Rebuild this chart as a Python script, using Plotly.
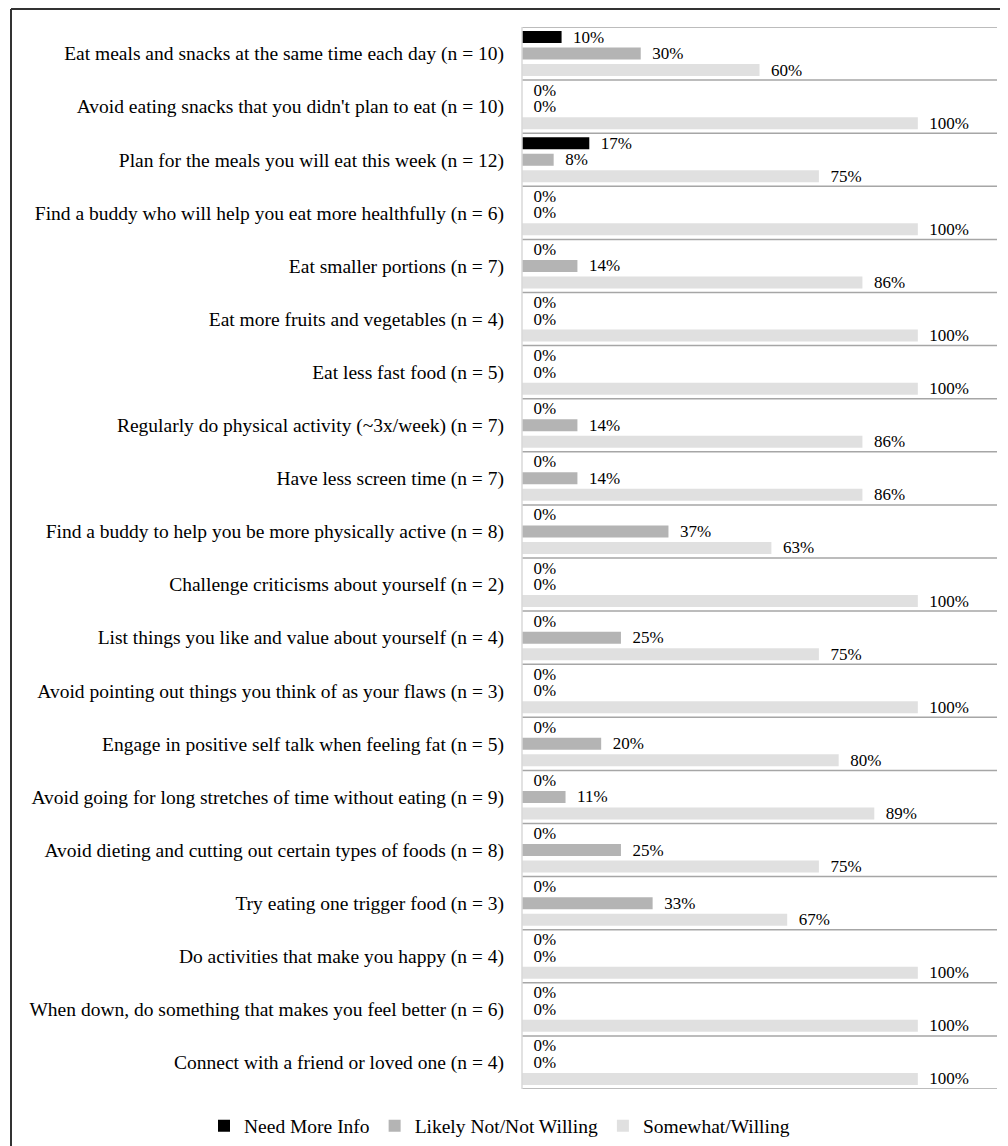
import plotly.graph_objects as go

categories = [
    "Eat meals and snacks at the same time each day (n = 10)",
    "Avoid eating snacks that you didn't plan to eat (n = 10)",
    "Plan for the meals you will eat this week (n = 12)",
    "Find a buddy who will help you eat more healthfully (n = 6)",
    "Eat smaller portions (n = 7)",
    "Eat more fruits and vegetables (n = 4)",
    "Eat less fast food (n = 5)",
    "Regularly do physical activity (~3x/week) (n = 7)",
    "Have less screen time (n = 7)",
    "Find a buddy to help you be more physically active (n = 8)",
    "Challenge criticisms about yourself (n = 2)",
    "List things you like and value about yourself (n = 4)",
    "Avoid pointing out things you think of as your flaws (n = 3)",
    "Engage in positive self talk when feeling fat (n = 5)",
    "Avoid going for long stretches of time without eating (n = 9)",
    "Avoid dieting and cutting out certain types of foods (n = 8)",
    "Try eating one trigger food (n = 3)",
    "Do activities that make you happy (n = 4)",
    "When down, do something that makes you feel better (n = 6)",
    "Connect with a friend or loved one (n = 4)",
]

need_more_info = [10, 0, 17, 0, 0, 0, 0, 0, 0, 0, 0, 0, 0, 0, 0, 0, 0, 0, 0, 0]
likely_not = [30, 0, 8, 0, 14, 0, 0, 14, 14, 37, 0, 25, 0, 20, 11, 25, 33, 0, 0, 0]
somewhat = [60, 100, 75, 100, 86, 100, 100, 86, 86, 63, 100, 75, 100, 80, 89, 75, 67, 100, 100, 100]

series = [
    ("Need More Info", need_more_info, "#000000"),
    ("Likely Not/Not Willing", likely_not, "#b4b4b4"),
    ("Somewhat/Willing", somewhat, "#e0e0e0"),
]

FONT = "Liberation Serif, Times New Roman, serif"
# page body has an 8px margin, so the figure is sized to fill the rest of the window
W, H = 1000, 1138
ML, MR, MT, MB = 514, 11, 19, 57
pw = W - ML - MR
ph = H - MT - MB

fig = go.Figure()
for name, vals, color in series:
    fig.add_trace(go.Bar(
        y=categories, x=vals, name=name, orientation="h",
        marker=dict(color=color, line=dict(width=0)),
        text=[f"\u00a0\u00a0{v}%" for v in vals],
        textposition="outside", cliponaxis=False, constraintext="none",
        textfont=dict(family=FONT, size=17, color="#000000"),
    ))

n = len(categories)
shapes = []
for i in range(n + 1):
    shapes.append(dict(type="line", xref="paper", yref="y", x0=0, x1=1,
                       y0=i - 0.5, y1=i - 0.5,
                       line=dict(color="#a6a6a6", width=1.5)))

# outer frame (top and left edges)
shapes.append(dict(type="line", xref="paper", yref="paper",
                   x0=(3 - ML) / pw, x1=(W - ML) / pw,
                   y0=1 + (MT - 1) / ph, y1=1 + (MT - 1) / ph,
                   line=dict(color="#333333", width=2)))
shapes.append(dict(type="line", xref="paper", yref="paper",
                   x0=(3 - ML) / pw, x1=(3 - ML) / pw,
                   y0=1 + (MT - 1) / ph, y1=-MB / ph - 0.01,
                   line=dict(color="#333333", width=2)))
# faint left axis line of plot area
shapes.append(dict(type="line", xref="paper", yref="paper", x0=0, x1=0, y0=0, y1=1,
                   line=dict(color="#d9d9d9", width=1.5)))

fig.update_layout(
    width=W, height=H,
    margin=dict(l=ML, r=MR, t=MT, b=MB, autoexpand=False),
    plot_bgcolor="white", paper_bgcolor="white",
    barmode="group", bargap=0.068, bargroupgap=0.27,
    font=dict(family=FONT, size=19, color="#000000"),
    xaxis=dict(range=[0, 120], visible=False, fixedrange=True),
    yaxis=dict(range=[n - 0.5, -0.5], showgrid=False, zeroline=False,
               showline=False, ticks="", ticklabelstandoff=17,
               tickfont=dict(family=FONT, size=19.5, color="#000000")),
    showlegend=True,
    legend=dict(orientation="h", xref="paper", yref="paper",
                x=(196 - ML) / pw, xanchor="left",
                y=(ph + MT - 1118) / ph, yanchor="middle",
                traceorder="normal", font=dict(family=FONT, size=19.5),
                itemwidth=30, bgcolor="rgba(0,0,0,0)"),
    shapes=shapes,
)

fig.write_html("out.html")
